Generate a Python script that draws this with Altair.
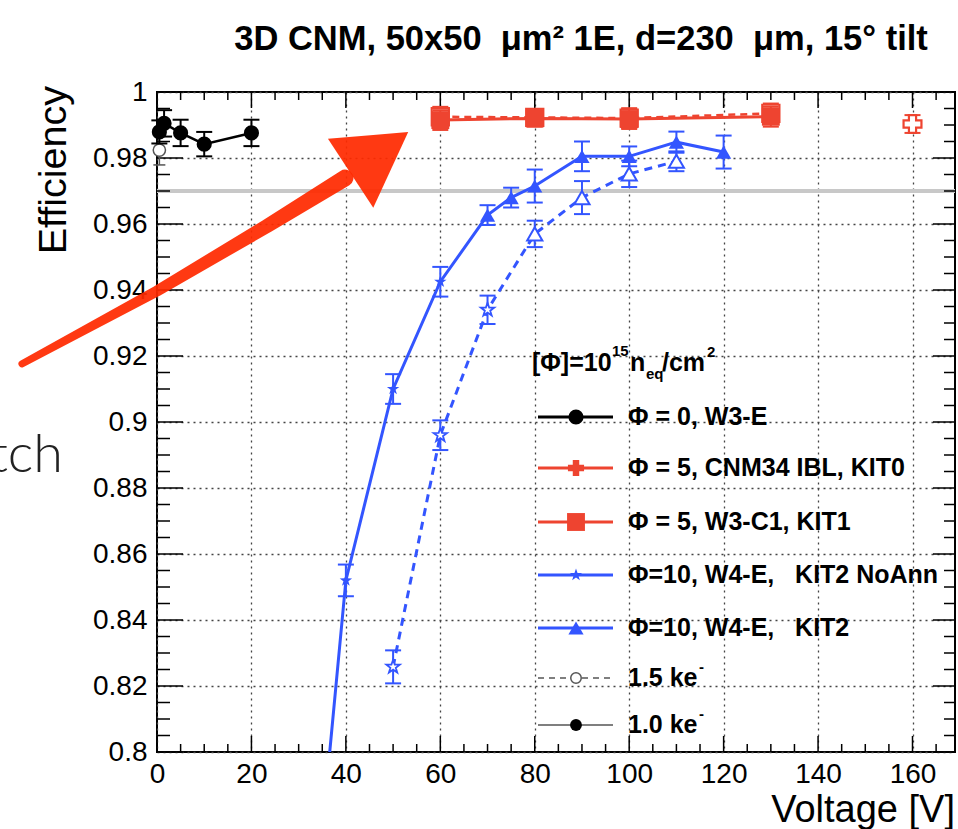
import altair as alt
import pandas as pd

FONT = "Liberation Sans"

# ---------------- text ----------------
TITLE = "3D CNM, 50x50\u00a0\u00a0\u03bcm\u00b2 1E, d=230\u00a0\u00a0\u03bcm, 15\u00b0 tilt"
X_TITLE = "Voltage [V]"
Y_TITLE = "Efficiency"
SIDE_TEXT = "tch"

# ---------------- axes ----------------
X_DOMAIN = [0, 169]
Y_DOMAIN = [0.8, 1.0]
X_TICKS = [0, 20, 40, 60, 80, 100, 120, 140, 160]
X_MINOR = [5, 10, 15, 25, 30, 35, 45, 50, 55, 65, 70, 75, 85, 90, 95,
           105, 110, 115, 125, 130, 135, 145, 150, 155, 165]
Y_TICKS = [0.8, 0.82, 0.84, 0.86, 0.88, 0.9, 0.92, 0.94, 0.96, 0.98, 1.0]
Y_MINOR = [round(0.8 + 0.005 * i, 3) for i in range(41) if i % 4]
REF_LINE = [0.97]

# ---------------- data ----------------
# Phi = 0, W3-E (1.0 ke, filled circles)
B10_V = [0.5, 1.5, 5, 10, 20]
B10_E = [0.9879, 0.9905, 0.9876, 0.9842, 0.9876]
B10_ERR = [0.0035, 0.004, 0.004, 0.0037, 0.004]
# Phi = 0, W3-E (1.5 ke, open circle)
B15_V = [0.5]
B15_E = [0.9824]
B15_ERR = [0.0045]

# Phi = 5, W3-C1, KIT1 (squares)
R1_V = [60, 80, 100, 130]
R1_10_E = [0.9915, 0.9920, 0.9918, 0.9925]
R1_10_ERR = [0.003, 0.0025, 0.003, 0.003]
R1_15_E = [0.9925, 0.9923, 0.9921, 0.9935]
R1_15_ERR = [0.003, 0.0025, 0.003, 0.003]

# Phi = 5, CNM34 IBL, KIT0 (cross)
R0_V = [160]
R0_E = [0.9903]
R0_ERR = [0.0027]

# Phi = 10, W4-E, KIT2 NoAnn (stars)
S10_V = [35, 40, 50, 60]
S10_E = [0.776, 0.852, 0.910, 0.9425]
S10_ERR = [0.005, 0.0048, 0.0045, 0.0045]
S15_V = [50, 60, 70]
S15_E = [0.8258, 0.896, 0.934]
S15_ERR = [0.005, 0.0045, 0.0043]

# Phi = 10, W4-E, KIT2 (triangles)
T10_V = [70, 75, 80, 90, 100, 110, 120]
T10_E = [0.9627, 0.968, 0.9715, 0.9805, 0.9805, 0.9848, 0.9818]
T10_ERR = [0.003, 0.003, 0.005, 0.0045, 0.003, 0.0032, 0.005]
T15_V = [80, 90, 100, 110]
T15_E = [0.957, 0.968, 0.9752, 0.979]
T15_ERR = [0.004, 0.005, 0.004, 0.003]

# hand-drawn annotation arrow (data units)
ARROW_V = [-28.6, 0.0, 23.3, 39.8]
ARROW_E = [0.9176, 0.9397, 0.9594, 0.9739]
ARROW_W = [7, 11, 14, 17]
HEAD_V = [36.2, 45.8, 53.2]
HEAD_LO = [0.9858, 0.9649, 0.9879]
HEAD_HI = [0.9858, 0.9870, 0.9879]

# legend
LEGEND_LABELS = ["\u03a6 = 0, W3-E", "\u03a6 = 5, CNM34 IBL, KIT0", "\u03a6 = 5, W3-C1, KIT1",
                 "\u03a6=10, W4-E,\u00a0\u00a0\u00a0KIT2 NoAnn", "\u03a6=10, W4-E,\u00a0\u00a0\u00a0KIT2",
                 "1.5 ke", "1.0 ke"]

BLACK = "#000000"
RED = "#ee4430"
BLUE = "#3355ff"
GREY = "#555555"
ARROW_RED = "#ff2a00"

STAR = ("M0,-1L0.235,-0.324L0.951,-0.309L0.38,0.124L0.588,0.809L0,0.4"
        "L-0.588,0.809L-0.38,0.124L-0.951,-0.309L-0.235,-0.324Z")

W, H = 798, 660

xs = alt.Scale(domain=X_DOMAIN, nice=False, zero=False)
ys = alt.Scale(domain=Y_DOMAIN, nice=False, zero=False)

xaxis = alt.Axis(values=X_TICKS, grid=True, gridDash=[2, 4], gridColor="#444444", gridWidth=1.3,
                 domain=False, ticks=False, labelFont=FONT, labelFontSize=28, labelColor="black",
                 labelPadding=8, labelFlush=False, labelOverlap=False, title=None)
yaxis = alt.Axis(values=Y_TICKS, grid=True, gridDash=[2, 4], gridColor="#444444", gridWidth=1.3,
                 domain=False, ticks=False, labelFont=FONT, labelFontSize=28, labelColor="black",
                 labelPadding=10, labelFlush=False, labelOverlap=False, title=None,
                 labelExpr="format(datum.value, '.2~f')")


def sdf(V, E, ERR):
    return pd.DataFrame({"V": V, "E": E,
                         "lo": [e - r for e, r in zip(E, ERR)],
                         "hi": [e + r for e, r in zip(E, ERR)]})


def X(f="V"):
    return alt.X(f"{f}:Q", scale=xs, axis=xaxis)


def Y(f="E"):
    return alt.Y(f"{f}:Q", scale=ys, axis=yaxis)


def errbars(df, color, cap=8, width=2, clip=False):
    base = alt.Chart(df)
    v = base.mark_rule(color=color, strokeWidth=width, clip=clip).encode(x=X(), y=Y("lo"), y2="hi")
    c1 = base.mark_rule(color=color, strokeWidth=width, xOffset=-cap, x2Offset=cap, clip=clip).encode(
        x=X(), x2="V", y=Y("lo"))
    c2 = base.mark_rule(color=color, strokeWidth=width, xOffset=-cap, x2Offset=cap, clip=clip).encode(
        x=X(), x2="V", y=Y("hi"))
    return [v, c1, c2]


def points(df, color, shape, size, filled=True, sw=2, clip=False):
    kw = dict(shape=shape, size=size, color=color, strokeWidth=sw, opacity=1, clip=clip)
    if filled:
        kw["filled"] = True
    else:
        kw["filled"] = False
        kw["fill"] = "white"
        kw["fillOpacity"] = 1
        kw["stroke"] = color
    return alt.Chart(df).mark_point(**kw).encode(x=X(), y=Y())


def line(df, color, width=2.5, dash=None, clip=False):
    kw = dict(color=color, strokeWidth=width, clip=clip)
    if dash:
        kw["strokeDash"] = dash
    return alt.Chart(df).mark_line(**kw).encode(x=X(), y=Y())


one = pd.DataFrame({"k": [0]})


def txt(s, x, y, size, align="left", baseline="middle", weight="normal", font=FONT, color="black", angle=0):
    kw = dict(text=s, fontSize=size, font=font, align=align, baseline=baseline,
              fontWeight=weight, color=color)
    if angle:
        kw["angle"] = angle
    return alt.Chart(one).mark_text(**kw).encode(x=alt.value(x), y=alt.value(y))


layers = []

# reference grey line at 0.97
layers.append(alt.Chart(pd.DataFrame({"E": REF_LINE})).mark_rule(color="#c8c8c8", strokeWidth=4)
              .encode(y=Y()))

# inner ticks
xmaj = pd.DataFrame({"V": X_TICKS})
xmin = pd.DataFrame({"V": X_MINOR})
ymaj = pd.DataFrame({"E": Y_TICKS})
ymin = pd.DataFrame({"E": Y_MINOR})
layers.append(alt.Chart(xmaj).mark_rule(color="black", strokeWidth=1.5)
              .encode(x=X(), y=alt.value(H), y2=alt.value(H - 16)))
layers.append(alt.Chart(xmaj).mark_rule(color="black", strokeWidth=1.5)
              .encode(x=X(), y=alt.value(0), y2=alt.value(16)))
layers.append(alt.Chart(xmin).mark_rule(color="black", strokeWidth=1.5)
              .encode(x=X(), y=alt.value(H), y2=alt.value(H - 8)))
layers.append(alt.Chart(xmin).mark_rule(color="black", strokeWidth=1.5)
              .encode(x=X(), y=alt.value(0), y2=alt.value(8)))
layers.append(alt.Chart(ymaj).mark_rule(color="black", strokeWidth=1.5)
              .encode(y=Y(), x=alt.value(0), x2=alt.value(26)))
layers.append(alt.Chart(ymin).mark_rule(color="black", strokeWidth=1.5)
              .encode(y=Y(), x=alt.value(0), x2=alt.value(13)))
layers.append(alt.Chart(ymaj).mark_rule(color="black", strokeWidth=1.5)
              .encode(y=Y(), x=alt.value(W), x2=alt.value(W - 22)))
layers.append(alt.Chart(ymin).mark_rule(color="black", strokeWidth=1.5)
              .encode(y=Y(), x=alt.value(W), x2=alt.value(W - 11)))

# ---- series ----
b10 = sdf(B10_V, B10_E, B10_ERR)
b15 = sdf(B15_V, B15_E, B15_ERR)
r10 = sdf(R1_V, R1_10_E, R1_10_ERR)
r15 = sdf(R1_V, R1_15_E, R1_15_ERR)
r0 = sdf(R0_V, R0_E, R0_ERR)
s10 = sdf(S10_V, S10_E, S10_ERR)
s15 = sdf(S15_V, S15_E, S15_ERR)
t10 = sdf(T10_V, T10_E, T10_ERR)
t15 = sdf(T15_V, T15_E, T15_ERR)

blue_solid = pd.DataFrame({"V": S10_V + T10_V, "E": S10_E + T10_E})
blue_dash = pd.DataFrame({"V": S15_V + T15_V, "E": S15_E + T15_E})

# dashed (1.5 ke)
layers.append(line(r15, RED, 2.5, [7, 5]))
layers.append(line(blue_dash, BLUE, 3, [8, 6], clip=True))
layers += errbars(r15, RED)
layers += errbars(b15, GREY, cap=6, width=1.5)
layers += errbars(s15, BLUE, clip=True)
layers += errbars(t15, BLUE)
layers.append(points(b15, GREY, "circle", 150, filled=False, sw=1.5))
layers.append(points(r15, RED, "square", 300, filled=False))
layers.append(points(s15, BLUE, STAR, 200, filled=False, sw=1.8, clip=True))
layers.append(points(t15, BLUE, "triangle-up", 230, filled=False, sw=2))

# solid (1.0 ke)
layers.append(line(b10, BLACK, 2.5))
layers.append(line(r10, RED, 3))
layers.append(line(blue_solid, BLUE, 3, clip=True))
layers += errbars(b10, BLACK)
layers += errbars(r10, RED)
layers += errbars(r0, RED)
layers += errbars(s10, BLUE, clip=True)
layers += errbars(t10, BLUE)
layers.append(points(b10, BLACK, "circle", 230))
layers.append(points(r10, RED, "square", 320))
layers.append(points(r0, RED, "cross", 320, filled=False, sw=2.2))
layers.append(points(s10, BLUE, STAR, 170, clip=True))
layers.append(points(t10, BLUE, "triangle-up", 230))

# ---- legend ----
LEG_Y = [325, 376, 430, 483, 536, 586, 633]
LEG_COLORS = [BLACK, RED, RED, BLUE, BLUE, GREY, GREY]
LEG_SHAPES = ["circle", "cross", "square", STAR, "triangle-up", "circle", "circle"]
LEG_SIZES = [230, 260, 320, 170, 230, 110, 140]
LEG_FILLED = [True, True, True, True, True, False, True]
LEG_LW = [3, 3, 3, 3, 3, 1.5, 1.5]
for i, lab in enumerate(LEGEND_LABELS):
    ry = LEG_Y[i]
    kw = dict(color=LEG_COLORS[i], strokeWidth=LEG_LW[i])
    if i == 5:
        kw["strokeDash"] = [6, 5]
    layers.append(alt.Chart(one).mark_rule(**kw).encode(
        x=alt.value(381), x2=alt.value(456), y=alt.value(ry)))
    mcol = BLACK if i == 6 else LEG_COLORS[i]
    pk = dict(shape=LEG_SHAPES[i], size=LEG_SIZES[i], color=mcol, opacity=1, strokeWidth=1.5)
    if LEG_FILLED[i]:
        pk["filled"] = True
    else:
        pk["filled"] = False
        pk["fill"] = "white"
        pk["fillOpacity"] = 1
        pk["stroke"] = mcol
    layers.append(alt.Chart(one).mark_point(**pk).encode(x=alt.value(419), y=alt.value(ry)))
    layers.append(txt(lab, 471, ry, 25, weight="bold"))
layers.append(txt("-", 542, LEG_Y[5] - 11, 15, weight="bold"))
layers.append(txt("-", 542, LEG_Y[6] - 11, 15, weight="bold"))

# legend header  [Phi]=10^15 n_eq / cm^2
layers.append(txt("[\u03a6]=10", 375, 271, 25, weight="bold"))
layers.append(txt("15", 455, 259, 15, weight="bold"))
layers.append(txt("n", 473, 271, 25, weight="bold"))
layers.append(txt("eq", 489, 282, 15, weight="bold"))
layers.append(txt("/cm", 505, 271, 25, weight="bold"))
layers.append(txt("2", 550, 260, 15, weight="bold"))

# ---- titles ----
layers.append(txt(TITLE, 424, -52, 34.5, align="center", weight="bold"))
layers.append(txt(X_TITLE, W, 730, 38, align="right", baseline="alphabetic"))
layers.append(txt(Y_TITLE, -103, -6, 39.5, align="right", baseline="middle", angle=270))

# slide overlay pieces
layers.append(alt.Chart(one).mark_rect(color="white").encode(
    x=alt.value(-157), x2=alt.value(-64), y=alt.value(386), y2=alt.value(483)))
layers.append(txt(SIDE_TEXT, -94, 380, 54, align="right", baseline="alphabetic",
                  font="Lato", weight=300, color="#222222"))

# ---- annotation arrow ----
arrow = pd.DataFrame({"V": ARROW_V, "E": ARROW_E, "w": ARROW_W})
layers.append(alt.Chart(arrow).mark_trail(color=ARROW_RED, opacity=0.93, clip=False).encode(
    x=X(), y=Y(), size=alt.Size("w:Q", scale=None, legend=None)))
head = pd.DataFrame({"V": HEAD_V, "lo": HEAD_LO, "hi": HEAD_HI})
layers.append(alt.Chart(head).mark_area(color=ARROW_RED, opacity=0.93, orient="vertical", clip=False)
              .encode(x=X(), y=Y("lo"), y2="hi"))

chart = alt.layer(*layers).properties(
    width=W, height=H,
    autosize=alt.AutoSizeParams(type="none"),
    padding={"left": 157, "top": 92, "right": 3, "bottom": 77},
    background="white",
).configure_view(stroke="black", strokeWidth=2)

chart.save("out.html", embed_options={"renderer": "svg", "actions": False})
